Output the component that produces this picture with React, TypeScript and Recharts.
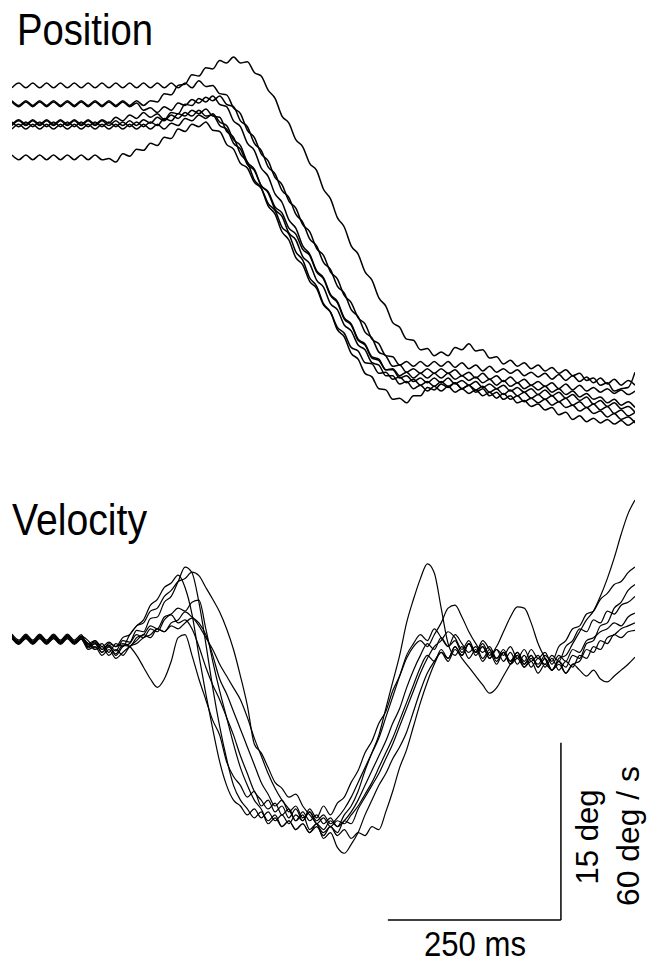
import { LineChart, Line, XAxis, YAxis, ReferenceLine } from "recharts";

// eye position (deg) and velocity (deg/s), one sample every 10 ms
const SAMPLE_MS = 10;

const P1 = [
  27.9, 27.5, 27.9, 27.5, 27.9, 27.5, 27.9, 27.5, 27.9, 27.5,
  27.9, 27.5, 27.9, 27.5, 27.9, 27.5, 27.9, 27.5, 27.9, 27.5,
  27.9, 27.8, 28.5, 28.4, 29.2, 29.3, 30.1, 30.0, 30.7, 30.6,
  31.3, 31.1, 31.6, 31.1, 31.2, 30.3, 30.0, 28.8, 28.1, 26.6,
  26.0, 24.6, 24.0, 22.6, 22.0, 20.4, 19.6, 18.0, 17.2, 15.6,
  14.9, 13.4, 12.7, 11.2, 10.5, 9.1, 8.7, 7.7, 7.6, 6.8,
  6.9, 6.3, 6.6, 6.3, 7.0, 6.8, 7.3, 6.7, 6.8, 6.1,
  6.2, 5.6, 5.9, 5.4, 5.7, 5.2, 5.5, 5.0, 5.3, 4.8,
  5.1, 4.6, 4.8, 4.2, 4.4, 3.8, 4.0, 3.3, 3.5, 3.6,
  4.9,
];
const P2 = [
  29.0, 29.4, 29.0, 29.4, 29.0, 29.4, 29.0, 29.4, 29.0, 29.4,
  29.0, 29.4, 29.0, 29.4, 29.0, 29.4, 29.0, 29.4, 29.0, 29.4,
  29.0, 29.4, 29.0, 29.4, 29.0, 29.4, 29.0, 29.6, 29.1, 29.2,
  28.5, 28.4, 27.3, 26.8, 25.4, 24.8, 23.4, 22.8, 21.4, 20.8,
  19.4, 18.8, 17.4, 16.8, 15.4, 14.8, 13.4, 12.8, 11.4, 10.8,
  9.5, 9.0, 7.7, 7.3, 6.3, 6.2, 5.5, 5.8, 5.4, 5.8,
  5.4, 5.8, 5.4, 5.8, 5.3, 5.7, 5.2, 5.5, 5.0, 5.4,
  4.9, 5.2, 4.8, 5.1, 4.6, 4.9, 4.5, 4.8, 4.3, 4.7,
  4.2, 4.6, 4.1, 4.5, 4.0, 4.4, 3.9, 4.3, 3.8, 4.2,
  3.8,
];
const P3 = [
  27.8, 27.4, 27.8, 27.4, 27.8, 27.4, 27.8, 27.4, 27.8, 27.4,
  27.8, 27.4, 27.8, 27.4, 27.8, 27.4, 27.8, 27.4, 27.7, 27.1,
  27.3, 26.9, 27.4, 27.1, 27.7, 27.5, 28.0, 27.7, 28.2, 27.9,
  28.3, 27.6, 27.4, 26.2, 25.7, 24.3, 23.7, 22.3, 21.7, 20.3,
  19.7, 18.3, 17.6, 16.2, 15.6, 14.2, 13.6, 12.2, 11.6, 10.2,
  9.6, 8.3, 7.8, 6.6, 6.3, 5.4, 5.5, 4.9, 5.2, 4.8,
  5.2, 4.8, 5.2, 4.8, 5.1, 4.6, 4.9, 4.4, 4.8, 4.3,
  4.6, 4.1, 4.5, 4.0, 4.3, 3.8, 4.1, 3.7, 4.0, 3.5,
  3.9, 3.4, 3.8, 3.3, 3.6, 3.2, 3.5, 3.1, 3.4, 3.0,
  3.3,
];
const P4 = [
  25.9, 26.3, 25.9, 26.3, 25.9, 26.3, 25.9, 26.3, 25.9, 26.3,
  25.9, 26.3, 25.9, 26.3, 26.0, 26.5, 26.2, 26.7, 26.4, 26.9,
  26.5, 26.8, 26.3, 26.9, 26.8, 27.6, 27.5, 28.1, 27.8, 28.3,
  27.6, 27.4, 26.2, 25.7, 24.3, 23.7, 22.2, 21.5, 20.0, 19.3,
  17.8, 17.1, 15.6, 14.9, 13.5, 12.9, 11.5, 10.9, 9.5, 9.0,
  7.7, 7.3, 6.2, 6.0, 5.1, 5.1, 4.4, 4.6, 4.1, 4.4,
  4.0, 4.4, 4.0, 4.4, 3.9, 4.2, 3.8, 4.1, 3.6, 3.9,
  3.5, 3.8, 3.3, 3.6, 3.2, 3.5, 3.0, 3.4, 2.9, 3.2,
  2.7, 3.0, 2.5, 2.8, 2.2, 2.5, 2.0, 2.3, 1.8, 2.0,
  1.5,
];
const P5 = [
  26.1, 25.7, 26.1, 25.7, 26.1, 25.7, 26.1, 25.7, 26.1, 25.7,
  26.1, 25.7, 26.1, 25.7, 26.1, 25.7, 26.1, 25.7, 26.1, 25.7,
  26.1, 25.8, 26.4, 26.2, 26.8, 26.6, 27.1, 26.8, 27.2, 26.6,
  26.5, 25.3, 24.8, 23.4, 22.7, 21.2, 20.5, 19.0, 18.3, 16.8,
  16.1, 14.6, 14.0, 12.6, 12.0, 10.6, 10.0, 8.7, 8.2, 7.0,
  6.7, 5.7, 5.6, 4.8, 4.9, 4.3, 4.5, 4.0, 4.3, 3.8,
  4.1, 3.7, 4.1, 3.7, 4.0, 3.5, 3.8, 3.4, 3.7, 3.2,
  3.5, 3.0, 3.4, 2.9, 3.2, 2.7, 3.0, 2.6, 2.9, 2.4,
  2.7, 2.1, 2.4, 1.9, 2.2, 1.7, 2.0, 1.4, 1.7, 1.2,
  1.5,
];
const P6 = [
  25.5, 25.9, 25.5, 25.9, 25.5, 25.9, 25.5, 25.9, 25.5, 25.9,
  25.5, 25.9, 25.5, 25.9, 25.5, 25.9, 25.5, 25.9, 25.5, 25.9,
  25.5, 25.9, 25.5, 26.0, 25.8, 26.4, 26.2, 26.7, 26.4, 26.8,
  26.1, 25.8, 24.6, 24.1, 22.7, 22.1, 20.7, 20.1, 18.7, 18.1,
  16.7, 16.1, 14.7, 14.1, 12.7, 12.1, 10.7, 10.2, 8.9, 8.4,
  7.2, 6.8, 5.7, 5.5, 4.6, 4.6, 3.9, 4.1, 3.5, 3.8,
  3.3, 3.7, 3.3, 3.7, 3.2, 3.5, 3.1, 3.4, 2.9, 3.2,
  2.7, 3.1, 2.6, 2.9, 2.4, 2.7, 2.3, 2.6, 2.1, 2.4,
  1.9, 2.1, 1.6, 1.9, 1.4, 1.6, 1.1, 1.4, 0.9, 1.1,
  0.6,
];
const P7 = [
  23.3, 22.9, 23.3, 22.9, 23.3, 22.9, 23.3, 22.9, 23.3, 22.9,
  23.3, 22.9, 23.3, 22.9, 23.0, 22.7, 23.4, 23.2, 23.8, 23.7,
  24.3, 24.1, 24.8, 24.7, 25.5, 25.3, 25.9, 25.7, 26.1, 25.4,
  25.3, 24.2, 23.8, 22.6, 22.2, 21.0, 20.5, 19.2, 18.6, 17.2,
  16.6, 15.1, 14.4, 12.9, 12.2, 10.7, 10.0, 8.5, 7.9, 6.5,
  6.0, 4.8, 4.5, 3.5, 3.4, 2.6, 2.7, 2.3, 2.9, 2.9,
  3.6, 3.4, 3.9, 3.6, 4.0, 3.5, 3.8, 3.2, 3.5, 2.9,
  3.2, 2.6, 2.9, 2.3, 2.5, 2.0, 2.2, 1.7, 1.9, 1.3,
  1.5, 0.9, 1.2, 0.7, 1.0, 0.6, 0.9, 0.5, 0.8, 0.4,
  0.8,
];
const P8 = [
  25.8, 26.2, 25.8, 26.2, 25.8, 26.2, 25.8, 26.2, 25.8, 26.2,
  25.8, 26.2, 25.8, 26.2, 25.8, 26.2, 25.8, 26.2, 25.8, 26.3,
  26.0, 26.5, 26.2, 26.7, 26.4, 26.9, 26.6, 27.1, 26.6, 26.7,
  25.8, 25.5, 24.3, 23.8, 22.5, 22.0, 20.7, 20.2, 18.9, 18.4,
  17.1, 16.6, 15.3, 14.8, 13.4, 12.8, 11.4, 10.8, 9.4, 8.9,
  7.6, 7.2, 6.1, 5.9, 5.1, 5.2, 4.6, 4.9, 4.4, 4.8,
  4.4, 4.8, 4.4, 4.8, 4.3, 4.6, 4.2, 4.5, 4.0, 4.3,
  3.8, 4.2, 3.7, 4.0, 3.5, 3.8, 3.4, 3.7, 3.2, 3.5,
  3.0, 3.3, 2.8, 3.1, 2.6, 2.8, 2.3, 2.6, 2.1, 2.4,
  1.9,
];

const V1 = [
  0.7, -1.7, 0.7, -1.7, 0.7, -1.7, 0.7, -1.7, 0.7, -1.7,
  0.5, -2.5, -1.5, -4, -2.5, -4.5, -1, -1.5, 2.5, 2,
  6.5, 7, 12, 14, 19, 23.9, 22, 12, -2, -17,
  -30, -41, -50, -55, -58, -61, -59, -63, -61, -64,
  -62, -65, -63, -66, -63, -65, -62, -64, -60, -57,
  -52, -45, -39, -33, -24, -15, -6, 5, 13, 20,
  25, 22, 10, -2, -6, -3, -7, -4, -8, -5,
  -9, -5, -8, -5, -9, -6, -10, -7, -11, -8,
  -10, -6, -7, -2, -1, 4, 5, 10, 12, 16,
  18,
];
const V2 = [
  0.8, -1.5, 0.8, -1.5, 0.8, -1.5, 0.8, -1.5, 0.8, -1.5,
  0.5, -1, -3.5, -2, -5, -2, -3, 1, 4, 6,
  11, 13, 17, 18.5, 21.2, 17, 8, -6, -19, -31,
  -42, -50, -55, -57, -60, -58, -61, -59, -62, -60,
  -63, -60, -62, -58, -61, -57, -60, -56, -54, -49,
  -45, -39, -35, -29, -25, -18, -13, -7, -3, -1,
  -3, 1, 5, 10, 11, 7, 2, -2, -5, -3,
  -7, -4, -8, -5, -8, -4, -7, -5, -9, -6,
  -8, -4, -5, -1, 0, 2, 3, 5, 4, 7,
  8.3,
];
const V3 = [
  0.2, -1.8, 0.2, -1.8, 0.2, -1.8, 0.2, -1.8, 0.2, -1.8,
  0, -3, -1, -4, -2, -3, 0, 1, 4, 5,
  9, 10, 14, 16, 19, 20, 22.2, 21, 17, 13,
  8.7, 3, -4, -13, -23, -36, -39, -44, -49, -51,
  -54, -53, -57, -60, -63, -66, -64, -67, -65, -68,
  -66, -67, -64, -65, -59, -52, -44, -38, -30, -22,
  -15, -9, -5, -7, -3, -6, -2, -5, -1, -4,
  -7, -5, -9, -6, -10, -8, -12, -9, -11, -7,
  -6, -2, 2, 6, 9, 14, 20, 27, 35, 42,
  46.6,
];
const V4 = [
  1.2, -0.8, 1.2, -0.8, 1.2, -0.8, 1.2, -0.8, 1.2, -0.8,
  1, -3, -2, -5, -3, -6, -3, -2, 1, 0,
  3, 2, 6, 7.7, 5, 6, 3, -3, -10, -16,
  -21, -27, -33, -40, -46, -52, -55, -58, -56, -60,
  -58, -62, -59, -62, -60, -63, -61, -64, -62, -59,
  -55, -50, -45, -40, -35, -29, -24, -17, -11, -6,
  -2, -4, 0, -3, 1, -2, -5, -3, -7, -4,
  -8, -5, -9, -7, -10, -7, -9, -6, -8, -3,
  -1, 3, 4, 8, 9, 13, 15, 18, 19, 22,
  23.9,
];
const V5 = [
  -0.3, -2.3, -0.3, -2.3, -0.3, -2.3, -0.3, -2.3, -0.3, -2.3,
  -0.5, -4, -3, -6, -4, -7, -5, -3, -1, 1,
  0, 3, 2, 5, 6, 8.7, 7, 5, 1, -6,
  -14, -19, -25, -31, -37, -43, -49, -53, -57, -55,
  -59, -57, -61, -59, -63, -61, -64, -62, -63, -60,
  -57, -53, -49, -44, -39, -34, -28, -22, -16, -10,
  -6, -8, -4, -7, -3, -6, -2, -5, -2, -6,
  -3, 2, 7, 10.4, 10, 5, -2, -7, -11, -8,
  -12, -9, -11, -13, -11, -14, -15, -13, -11, -9,
  -6.6,
];
const V6 = [
  0.5, -1.2, 0.5, -1.2, 0.5, -1.2, 0.5, -1.2, 0.5, -1.2,
  0, -2, -4, -3, -6, -4, -6, -3, -2, 0,
  1, 3, 2, 4, 3, 5, 6.6, 4, 0, -4,
  -9, -13, -17, -21, -27, -34, -40, -46, -51, -55,
  -58, -62, -60, -65, -63, -68, -66, -71, -73, -70,
  -66, -60, -55, -50, -46, -41, -37, -32, -25, -18,
  -12, -8, -5, -8, -4, -7, -10, -13, -16, -18.8,
  -17, -13, -9, -6, -9, -6, -10, -7, -11, -9,
  -12, -9, -8, -4, -5, -1, -2, 1, 0, 2,
  2.5,
];
const V7 = [
  0.5, -1.5, 0.5, -1.5, 0.5, -1.5, 0.5, -1.5, 0.5, -1.5,
  0, -2, -1, -3, -1.5, -3, -2, -3, -6, -10,
  -14, -16.8, -14, -8, 0, 1, -6, -14, -21, -28,
  -33, -42, -47, -50, -54, -52, -57, -55, -59, -57,
  -61, -58, -62, -59, -62, -60, -63, -61, -58, -54,
  -49, -44, -39, -34, -27, -20, -13, -6, -2, 1,
  -1, 3, 0, -3, -1, -5, -2, -6, -3, -7,
  -4, -8, -5, -9, -6, -10, -7, -9, -6, -8,
  -3, -1, 3, 2, 6, 5, 9, 8, 11, 12,
  14,
];
const V8 = [
  -0.2, -2, -0.2, -2, -0.2, -2, -0.2, -2, -0.2, -2,
  -0.5, -3.5, -2, -5, -3, -5.5, -2.5, -3, 0, 1,
  4, 3, 7, 8, 10, 9, 12, 12.7, 3, -8,
  -18, -27, -36, -44, -50, -55, -58, -62, -60, -64,
  -62, -65, -63, -66, -64, -67, -64, -66, -62, -63,
  -58, -54, -50, -46, -41, -36, -30, -24, -18, -12,
  -7, -3, -1, 2, 0, -4, -1, -5, -3, -7,
  -4, -6, -3, -7, -4, -8, -6, -10, -7, -11,
  -8, -10, -6, -7, -3, -4, 0, 1, 3, 4,
  5,
];

const POSITION_TRACES = [P1, P2, P3, P4, P5, P6, P7, P8];
const VELOCITY_TRACES = [V1, V2, V3, V4, V5, V6, V7, V8];

// scale bars: 250 ms horizontally, 15 deg / 60 deg/s vertically
const BAR_MS = 250;
const BAR_VEL = 60;
const BAR_CORNER_MS = 793;
const BAR_BASE_VEL = -95.6;

const FONT = "'Liberation Sans', Arial, sans-serif";

const buildRows = (traces: number[][]) =>
  traces[0].map((_, k) => {
    const row: Record<string, number> = { t: k * SAMPLE_MS };
    traces.forEach((tr, n) => {
      row[`s${n}`] = tr[k];
    });
    return row;
  });

const positionRows = buildRows(POSITION_TRACES);
const velocityRows = buildRows(VELOCITY_TRACES);

const Traces = ({
  rows,
  count,
  yDomain,
  height,
  strokeWidth,
  children,
}: {
  rows: Record<string, number>[];
  count: number;
  yDomain: [number, number];
  height: number;
  strokeWidth: number;
  children?: React.ReactNode;
}) => (
  <LineChart width={623} height={height} data={rows} margin={{ top: 0, right: 0, bottom: 0, left: 0 }}>
    <XAxis type="number" dataKey="t" domain={[0, 900]} allowDataOverflow hide />
    <YAxis type="number" domain={yDomain} allowDataOverflow hide />
    {Array.from({ length: count }, (_, n) => (
      <Line
        key={n}
        type="monotone"
        dataKey={`s${n}`}
        stroke="#000"
        strokeWidth={strokeWidth}
        strokeLinejoin="round"
        dot={false}
        activeDot={false}
        isAnimationActive={false}
      />
    ))}
    {children}
  </LineChart>
);

export default function App() {
  return (
    <div style={{ position: "absolute", left: 0, top: 0, width: 649, height: 963, background: "#fff" }}>
      <div style={{ position: "absolute", left: 12, top: 50 }}>
        <Traces rows={positionRows} count={POSITION_TRACES.length} yDomain={[0, 32.2]} height={380} strokeWidth={1.5} />
      </div>
      <div style={{ position: "absolute", left: 12, top: 490 }}>
        <Traces rows={velocityRows} count={VELOCITY_TRACES.length} yDomain={[-100, 50]} height={443} strokeWidth={1.2}>
          <ReferenceLine
            segment={[
              { x: BAR_CORNER_MS - BAR_MS, y: BAR_BASE_VEL },
              { x: BAR_CORNER_MS, y: BAR_BASE_VEL },
            ]}
            stroke="#000"
            strokeWidth={1.5}
          />
          <ReferenceLine
            segment={[
              { x: BAR_CORNER_MS, y: BAR_BASE_VEL },
              { x: BAR_CORNER_MS, y: BAR_BASE_VEL + BAR_VEL },
            ]}
            stroke="#000"
            strokeWidth={1.5}
          />
        </Traces>
      </div>
      <svg
        width={649}
        height={963}
        style={{ position: "absolute", left: 0, top: 0, pointerEvents: "none" }}
        fontFamily={FONT}
        fill="#000"
      >
        <text x={17} y={45} fontSize={44} textLength={136} lengthAdjust="spacingAndGlyphs">
          Position
        </text>
        <text x={12} y={535} fontSize={44} textLength={135} lengthAdjust="spacingAndGlyphs">
          Velocity
        </text>
        <text x={424} y={956} fontSize={35} textLength={102} lengthAdjust="spacingAndGlyphs">
          250 ms
        </text>
        <text
          x={598}
          y={837}
          fontSize={31}
          textAnchor="middle"
          textLength={95}
          lengthAdjust="spacingAndGlyphs"
          transform="rotate(-90 598 837)"
        >
          15 deg
        </text>
        <text
          x={639}
          y={836}
          fontSize={32}
          textAnchor="middle"
          textLength={140}
          lengthAdjust="spacingAndGlyphs"
          transform="rotate(-90 639 836)"
        >
          60 deg / s
        </text>
      </svg>
    </div>
  );
}
